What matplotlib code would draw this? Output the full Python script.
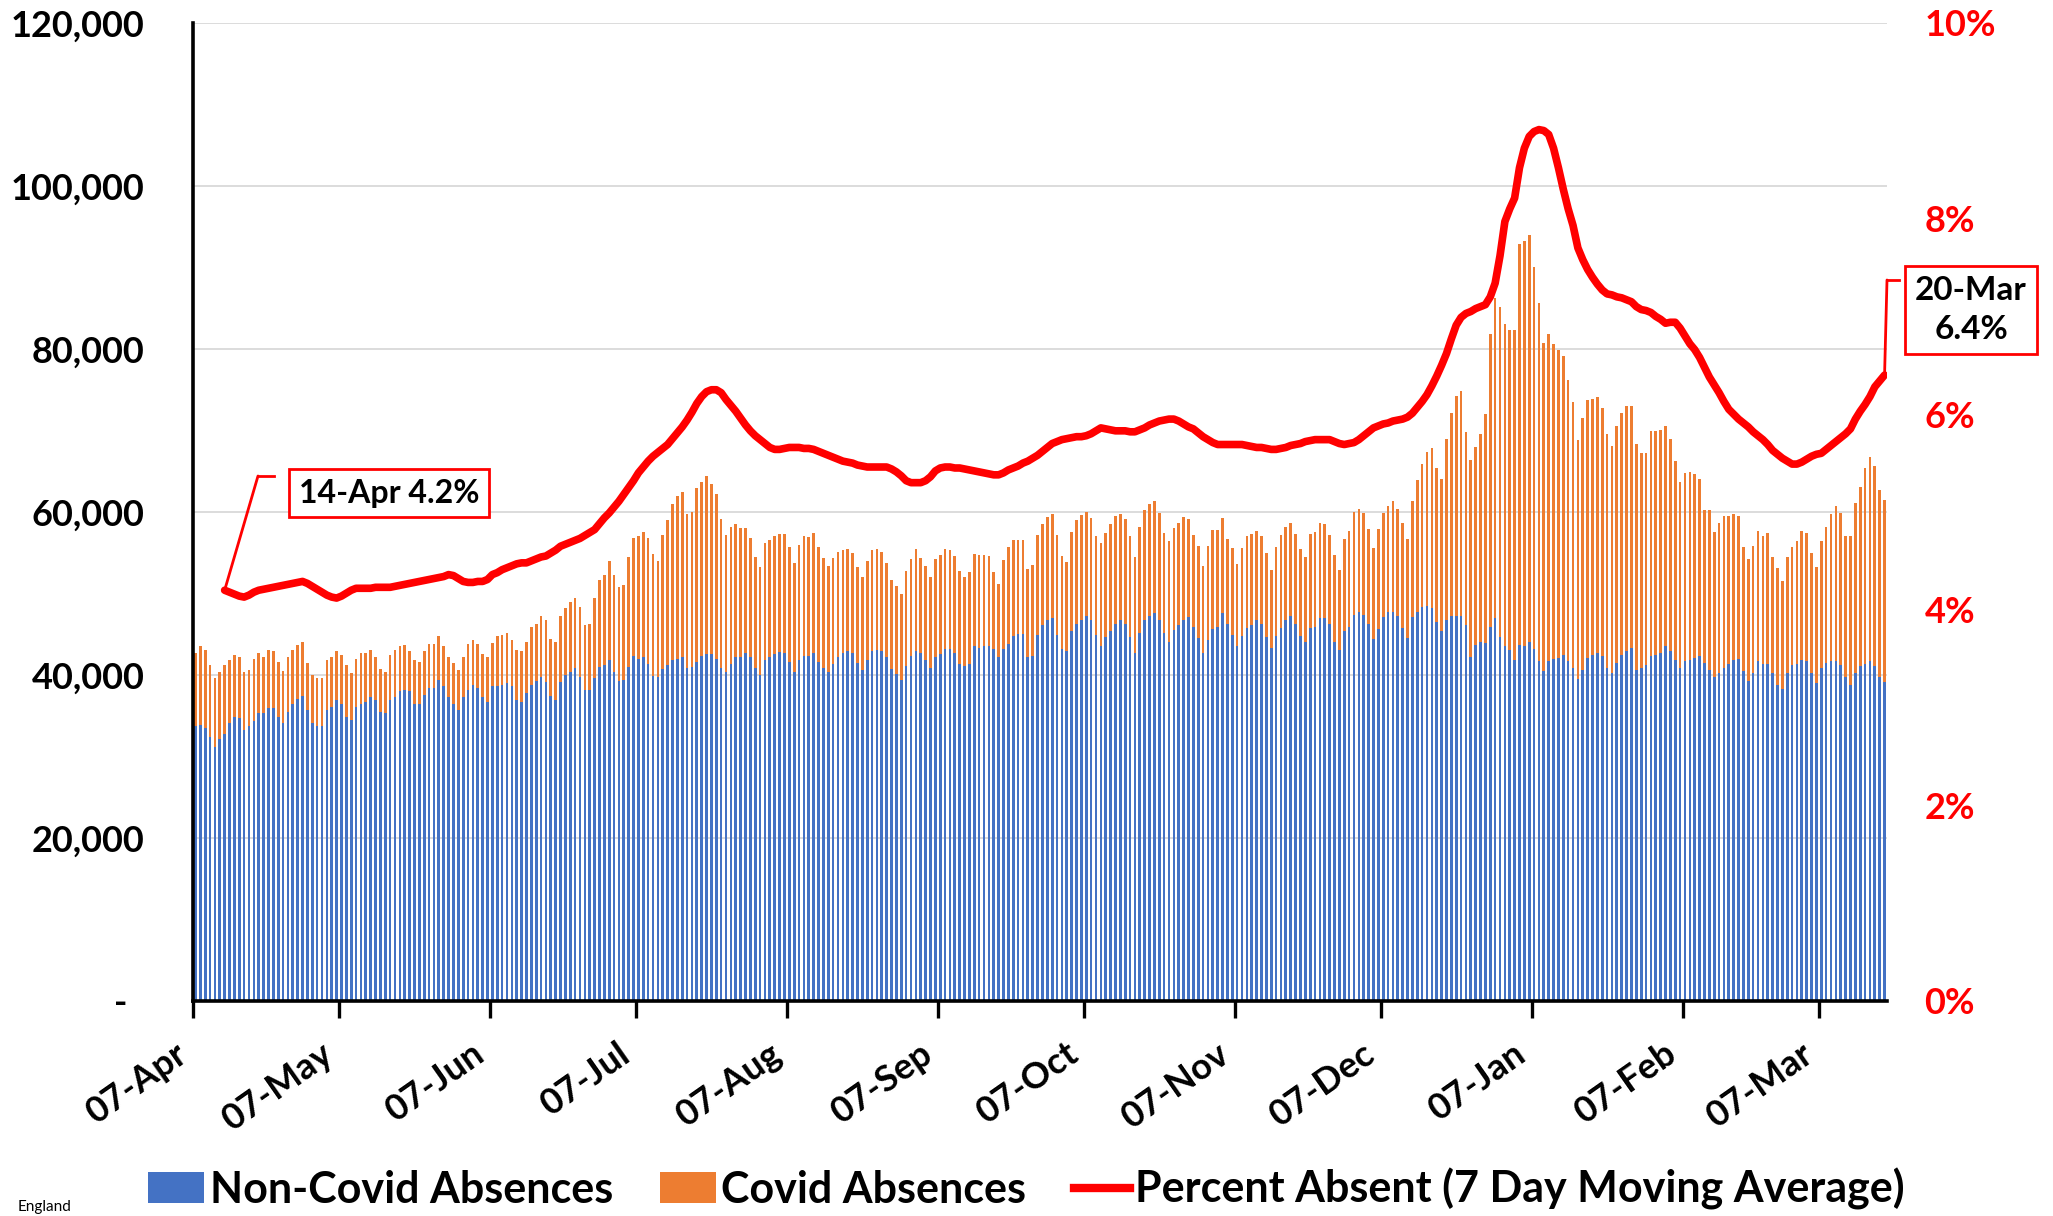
import numpy as np
import matplotlib
matplotlib.use("Agg")
import matplotlib.pyplot as plt
from matplotlib.patches import Patch
from matplotlib.lines import Line2D

plt.rcParams['font.family'] = ['Lato', 'DejaVu Sans']
plt.rcParams['font.weight'] = 'bold'

# ---------------- data ----------------
month_tick_days = [0, 30, 61, 91, 122, 153, 183, 214, 244, 275, 306, 334]
month_tick_labels = ["07-Apr", "07-May", "07-Jun", "07-Jul", "07-Aug", "07-Sep",
                     "07-Oct", "07-Nov", "07-Dec", "07-Jan", "07-Feb", "07-Mar"]

# daily non-covid absences (thousands), 07-Apr .. 20-Mar
non_covid_k = [
    33.7, 33.9, 33.5, 32.4, 31.2, 32.2, 32.8, 34.1, 34.9, 34.7,
    33.3, 33.7, 34.3, 35.3, 35.3, 35.9, 36.0, 34.9, 34.1, 35.5,
    36.5, 37.1, 37.4, 35.7, 34.1, 33.7, 33.7, 35.7, 36.1, 36.9,
    36.5, 34.9, 34.5, 36.1, 36.5, 36.7, 37.3, 36.9, 35.5, 35.3,
    36.9, 37.3, 38.0, 38.2, 38.0, 36.5, 36.5, 37.5, 38.4, 38.4,
    39.4, 38.6, 37.3, 36.5, 35.7, 37.3, 38.2, 38.8, 38.4, 37.3,
    36.7, 38.6, 38.7, 38.8, 39.0, 38.6, 36.9, 36.7, 37.8, 38.8,
    39.3, 39.8, 39.2, 37.4, 36.9, 39.2, 40.0, 40.4, 40.8, 39.8,
    38.1, 38.1, 39.6, 41.0, 41.2, 41.8, 40.4, 39.3, 39.4, 41.0,
    42.3, 42.0, 42.2, 41.4, 39.9, 39.8, 40.7, 41.2, 41.8, 42.0,
    42.2, 40.8, 41.0, 41.6, 42.3, 42.6, 42.6, 42.0, 40.8, 40.4,
    41.4, 42.2, 42.2, 42.7, 42.2, 40.8, 40.0, 41.8, 42.2, 42.6,
    42.8, 42.7, 41.6, 40.4, 41.8, 42.3, 42.3, 42.7, 41.6, 40.8,
    40.4, 41.4, 42.2, 42.7, 42.9, 42.7, 41.5, 40.6, 41.8, 42.9,
    43.1, 43.0, 42.2, 40.7, 40.1, 39.4, 41.1, 42.3, 43.0, 42.7,
    41.8, 40.9, 42.2, 42.6, 43.2, 43.2, 42.7, 41.4, 41.1, 41.3,
    43.5, 43.3, 43.6, 43.6, 43.2, 42.2, 43.2, 43.8, 44.8, 45.0,
    45.0, 42.2, 42.3, 44.9, 46.1, 46.8, 47.0, 44.9, 43.2, 43.0,
    45.4, 46.3, 46.7, 47.2, 46.7, 44.9, 43.6, 44.7, 45.4, 46.3,
    46.7, 46.3, 44.7, 42.7, 45.1, 46.7, 47.2, 47.6, 46.8, 45.1,
    44.1, 45.5, 46.1, 46.7, 47.1, 45.9, 44.5, 42.7, 44.3, 45.7,
    45.9, 47.6, 46.2, 44.9, 43.6, 44.8, 45.8, 46.1, 46.7, 46.2,
    44.7, 43.3, 44.8, 45.8, 46.7, 47.3, 46.2, 44.8, 44.1, 45.8,
    45.9, 47.0, 47.0, 46.2, 44.1, 43.1, 45.4, 45.9, 47.4, 47.7,
    47.4, 46.2, 44.4, 45.6, 47.1, 47.7, 47.7, 47.2, 45.8, 44.6,
    47.1, 47.7, 48.3, 48.5, 48.2, 46.5, 45.4, 46.7, 47.3, 47.3,
    47.3, 46.1, 42.2, 43.7, 44.1, 43.9, 45.9, 47.0, 44.7, 43.6,
    43.1, 41.8, 43.7, 43.6, 44.0, 43.2, 41.7, 40.5, 41.7, 42.0,
    42.1, 42.4, 41.7, 40.9, 39.5, 40.6, 42.1, 42.4, 42.7, 42.3,
    40.8, 40.3, 41.5, 42.4, 43.0, 43.3, 40.6, 40.8, 41.2, 42.3,
    42.4, 42.7, 43.5, 43.0, 41.8, 40.9, 41.7, 41.8, 42.1, 42.3,
    41.5, 40.6, 39.8, 40.2, 40.9, 41.3, 41.8, 42.0, 40.5, 39.3,
    40.3, 41.7, 41.4, 41.4, 40.2, 38.8, 38.3, 40.3, 41.2, 41.4,
    41.8, 41.7, 40.3, 39.0, 40.9, 41.5, 41.7, 41.7, 41.2, 39.8,
    38.8, 40.2, 41.1, 41.4, 41.7, 41.1, 39.8, 39.1,
]

# daily total absences = top of stacked bar (thousands)
total_k = [
    42.7, 43.5, 43.1, 41.2, 39.6, 40.4, 41.2, 41.8, 42.5, 42.2,
    40.4, 40.6, 42.0, 42.7, 42.2, 43.1, 42.9, 41.6, 40.5, 42.2,
    43.1, 43.7, 44.0, 41.5, 40.0, 39.6, 39.6, 41.8, 42.2, 42.9,
    42.5, 41.2, 40.2, 42.0, 42.7, 42.7, 43.1, 42.2, 40.7, 40.4,
    42.5, 43.1, 43.5, 43.7, 42.9, 41.8, 41.6, 42.9, 43.8, 43.8,
    44.8, 43.6, 42.2, 41.5, 40.6, 42.2, 43.8, 44.3, 43.8, 42.6,
    42.2, 43.9, 44.8, 44.9, 45.2, 44.3, 43.1, 43.0, 44.1, 45.9,
    46.3, 47.2, 46.7, 44.4, 44.0, 47.2, 48.2, 48.9, 49.5, 48.3,
    46.1, 46.3, 49.4, 51.7, 52.3, 54.0, 52.3, 50.8, 51.0, 54.5,
    56.8, 57.1, 57.6, 56.8, 54.9, 54.0, 57.2, 59.0, 61.0, 62.0,
    62.4, 59.8, 60.0, 63.0, 63.7, 64.4, 63.4, 62.2, 59.2, 57.2,
    58.2, 58.5, 58.0, 58.0, 56.8, 54.5, 53.2, 56.2, 56.6, 57.0,
    57.3, 57.3, 55.7, 53.8, 56.0, 57.0, 56.9, 57.4, 55.7, 54.3,
    53.4, 54.3, 55.1, 55.3, 55.5, 55.0, 53.3, 52.0, 54.0, 55.3,
    55.4, 55.1, 53.8, 51.7, 50.9, 50.0, 52.7, 54.2, 55.4, 54.4,
    53.4, 52.0, 54.2, 54.7, 55.4, 55.3, 54.6, 52.8, 52.0, 52.6,
    54.9, 54.7, 54.7, 54.6, 52.6, 51.2, 54.1, 55.7, 56.6, 56.6,
    56.6, 53.0, 53.5, 57.2, 58.5, 59.4, 59.8, 57.2, 54.6, 53.9,
    57.5, 59.0, 59.6, 60.0, 59.3, 57.0, 56.2, 57.4, 58.5, 59.5,
    59.8, 59.1, 57.0, 54.5, 58.2, 60.2, 61.0, 61.3, 59.9, 57.4,
    56.4, 58.0, 58.7, 59.4, 59.2, 57.2, 55.8, 53.4, 55.8, 57.8,
    57.8, 59.3, 56.7, 55.6, 53.6, 55.6, 57.0, 57.3, 57.7, 57.0,
    55.0, 52.9, 55.7, 57.2, 58.1, 58.7, 57.3, 55.4, 54.5, 57.3,
    57.6, 58.7, 58.5, 57.2, 54.7, 52.9, 56.7, 57.7, 60.0, 60.4,
    59.9, 57.9, 55.6, 57.9, 59.9, 60.7, 61.4, 60.4, 58.6, 56.7,
    61.3, 63.9, 65.9, 67.4, 67.9, 65.4, 64.1, 68.9, 72.2, 74.2,
    74.9, 69.8, 66.4, 68.0, 69.6, 72.0, 81.8, 86.3, 85.2, 83.1,
    82.3, 82.3, 92.9, 93.3, 94.0, 90.0, 85.7, 80.7, 81.8, 80.6,
    79.9, 79.1, 76.2, 73.5, 68.8, 71.5, 73.8, 73.9, 74.1, 72.7,
    69.6, 68.1, 70.5, 72.2, 73.0, 73.0, 68.3, 67.3, 67.2, 69.9,
    69.9, 70.1, 70.5, 68.9, 66.3, 63.7, 64.8, 64.9, 64.7, 64.0,
    60.3, 60.2, 57.6, 58.7, 59.5, 59.5, 59.7, 59.5, 55.7, 54.2,
    55.8, 57.7, 57.0, 57.4, 54.5, 53.1, 51.5, 54.5, 55.7, 56.4,
    57.7, 57.4, 55.0, 53.3, 56.4, 58.2, 59.7, 60.7, 59.9, 57.1,
    57.0, 61.1, 63.1, 65.4, 66.7, 65.6, 62.7, 61.5,
]

# 7-day moving average percent absent, starting at day index 6
pct_start_day = 6
pct_ma = [
    4.20, 4.18, 4.16, 4.14,
    4.13, 4.15, 4.18, 4.20, 4.21, 4.22, 4.23, 4.24, 4.25, 4.26,
    4.27, 4.28, 4.29, 4.27, 4.24, 4.21, 4.18, 4.15, 4.13, 4.12,
    4.14, 4.17, 4.20, 4.22, 4.22, 4.22, 4.22, 4.23, 4.23, 4.23,
    4.23, 4.24, 4.25, 4.26, 4.27, 4.28, 4.29, 4.30, 4.31, 4.32,
    4.33, 4.34, 4.36, 4.35, 4.32, 4.29, 4.28, 4.28, 4.29, 4.29,
    4.31, 4.36, 4.38, 4.41, 4.43, 4.45, 4.47, 4.48, 4.48, 4.50,
    4.52, 4.54, 4.55, 4.58, 4.61, 4.65, 4.67, 4.69, 4.71, 4.73,
    4.76, 4.79, 4.82, 4.88, 4.94, 4.99, 5.05, 5.11, 5.18, 5.25,
    5.32, 5.40, 5.46, 5.52, 5.57, 5.61, 5.65, 5.69, 5.75, 5.81,
    5.87, 5.94, 6.02, 6.11, 6.18, 6.23, 6.25, 6.25, 6.22, 6.15,
    6.09, 6.03, 5.96, 5.89, 5.83, 5.78, 5.74, 5.70, 5.66, 5.64,
    5.64, 5.65, 5.66, 5.66, 5.66, 5.65, 5.65, 5.64, 5.62, 5.60,
    5.58, 5.56, 5.54, 5.52, 5.51, 5.50, 5.48, 5.47, 5.46, 5.46,
    5.46, 5.46, 5.46, 5.44, 5.41, 5.37, 5.32, 5.30, 5.30, 5.30,
    5.32, 5.36, 5.42, 5.45, 5.46, 5.46, 5.45, 5.45, 5.44, 5.43,
    5.42, 5.41, 5.40, 5.39, 5.38, 5.38, 5.40, 5.43, 5.45, 5.47,
    5.50, 5.52, 5.55, 5.58, 5.62, 5.66, 5.70, 5.72, 5.74, 5.75,
    5.76, 5.77, 5.77, 5.78, 5.80, 5.83, 5.86, 5.85, 5.84, 5.83,
    5.83, 5.83, 5.82, 5.82, 5.84, 5.86, 5.89, 5.91, 5.93, 5.94,
    5.95, 5.95, 5.93, 5.90, 5.87, 5.85, 5.81, 5.77, 5.74, 5.71,
    5.69, 5.69, 5.69, 5.69, 5.69, 5.69, 5.68, 5.67, 5.66, 5.66,
    5.65, 5.64, 5.64, 5.65, 5.66, 5.68, 5.69, 5.70, 5.72, 5.73,
    5.74, 5.74, 5.74, 5.74, 5.72, 5.70, 5.69, 5.70, 5.71, 5.74,
    5.78, 5.82, 5.86, 5.88, 5.90, 5.91, 5.93, 5.94, 5.95, 5.97,
    6.01, 6.07, 6.13, 6.20, 6.29, 6.39, 6.50, 6.62, 6.77, 6.91,
    6.99, 7.03, 7.05, 7.08, 7.10, 7.12, 7.20, 7.34, 7.62, 7.97,
    8.10, 8.21, 8.52, 8.72, 8.84, 8.89, 8.91, 8.90, 8.86, 8.72,
    8.52, 8.30, 8.10, 7.93, 7.70, 7.58, 7.48, 7.40, 7.33, 7.27,
    7.23, 7.22, 7.20, 7.19, 7.17, 7.15, 7.10, 7.07, 7.06, 7.04,
    7.00, 6.97, 6.93, 6.94, 6.94, 6.88, 6.80, 6.72, 6.66, 6.58,
    6.48, 6.38, 6.30, 6.22, 6.13, 6.05, 6.00, 5.95, 5.91, 5.87,
    5.82, 5.78, 5.74, 5.69, 5.63, 5.59, 5.55, 5.52, 5.49, 5.49,
    5.51, 5.54, 5.57, 5.59, 5.60, 5.64, 5.68, 5.72, 5.76, 5.80,
    5.85, 5.95, 6.03, 6.10, 6.18, 6.28, 6.34, 6.40,
]

left_ticks = [0, 20000, 40000, 60000, 80000, 100000, 120000]
right_ticks = [0, 2, 4, 6, 8, 10]

legend_labels = ["Non-Covid Absences", "Covid Absences",
                 "Percent Absent (7 Day Moving Average)"]
first_label = "14-Apr 4.2%"
last_label = "20-Mar\n6.4%"

# ---------------- figure ----------------
BLUE = '#4472C4'
ORANGE = '#ED7D31'
RED = '#FF0000'

W, H = 2053, 1216
fig = plt.figure(figsize=(W / 100, H / 100), dpi=100)
L, R, T, B = 193, 1887, 23, 1001
ax = fig.add_axes([L / W, 1 - B / H, (R - L) / W, (B - T) / H])

n_days = len(non_covid_k)
x = np.arange(n_days) + 0.5
non_covid = np.array(non_covid_k) * 1000.0
covid = (np.array(total_k) - np.array(non_covid_k)) * 1000.0

ax.bar(x, non_covid, width=0.55, color=BLUE, linewidth=0)
ax.bar(x, covid, bottom=non_covid, width=0.55, color=ORANGE, linewidth=0)

ax.set_xlim(0, n_days)
ax.set_ylim(0, 120000)
ax.set_yticks(left_ticks)
ax.set_yticklabels(['-  ' if v == 0 else f'{v:,}' for v in left_ticks])
ax.yaxis.grid(True, color='#D9D9D9', linewidth=1.3)
ax.set_axisbelow(True)
ax.tick_params(axis='y', length=0, pad=35, labelsize=26, labelcolor='black')

ax.set_xticks(month_tick_days)
ax.set_xticklabels(month_tick_labels, rotation=35, ha='right')
ax.tick_params(axis='x', length=12, width=2.4, direction='out', pad=14,
               labelsize=26, color='black')
for lbl in ax.get_xticklabels():
    lbl.set_x(lbl.get_position()[0])

for s in ['top', 'right']:
    ax.spines[s].set_visible(False)
for s in ['left', 'bottom']:
    ax.spines[s].set_linewidth(2.6)
    ax.spines[s].set_color('black')

ax2 = ax.twinx()
ax2.set_ylim(0, 10)
ax2.set_yticks(right_ticks)
ax2.set_yticklabels([f'{v}%' for v in right_ticks])
ax2.tick_params(axis='y', length=0, pad=27, labelsize=26, labelcolor=RED)
for s in ['top', 'right', 'left', 'bottom']:
    ax2.spines[s].set_visible(False)

x_line = np.arange(pct_start_day, pct_start_day + len(pct_ma)) + 0.5
ax2.plot(x_line, pct_ma, color=RED, linewidth=5.5, solid_joinstyle='round',
         solid_capstyle='round')


def figfrac(px, py):
    return (px / W, 1 - py / H)


# annotation 1
ax2.annotate('', xy=(x_line[0], pct_ma[0]), xycoords='data',
             xytext=figfrac(258, 476), textcoords='figure fraction',
             arrowprops=dict(arrowstyle='-', color=RED, lw=2,
                             shrinkA=0, shrinkB=0), annotation_clip=False)
fig.add_artist(Line2D([258 / W, 274 / W], [1 - 476 / H, 1 - 476 / H],
                      transform=fig.transFigure, color=RED, lw=2))
fig.text(*figfrac(389, 493), first_label, ha='center', va='center',
         fontsize=23, fontweight='bold', color='black',
         bbox=dict(boxstyle='square,pad=0.3', fc='white', ec=RED, lw=2))

# annotation 2
ax2.annotate('', xy=(x_line[-1], pct_ma[-1]), xycoords='data',
             xytext=figfrac(1887, 280), textcoords='figure fraction',
             arrowprops=dict(arrowstyle='-', color=RED, lw=2,
                             shrinkA=0, shrinkB=0), annotation_clip=False)
fig.add_artist(Line2D([1887 / W, 1899 / W], [1 - 280 / H, 1 - 280 / H],
                      transform=fig.transFigure, color=RED, lw=2))
fig.text(*figfrac(1971, 310), last_label, ha='center', va='center',
         ma='center', linespacing=1.45, fontsize=24, fontweight='bold',
         color='black',
         bbox=dict(boxstyle='square,pad=0.3', fc='white', ec=RED, lw=2))

# legend
handles = [Patch(facecolor=BLUE, edgecolor='none'),
           Patch(facecolor=ORANGE, edgecolor='none'),
           Line2D([0], [0], color=RED, lw=6)]
fig.legend(handles, legend_labels, loc='center',
           bbox_to_anchor=(0.5, 1 - 1189 / H), ncol=3, frameon=False,
           fontsize=31, handlelength=1.3, handleheight=0.7,
           handletextpad=0.12, columnspacing=1.1, borderpad=0)

fig.text(18 / W, 1 - 1200 / H, 'England', fontsize=11, fontweight='normal',
         va='top', ha='left', color='black')

fig.savefig('out.png', dpi=100)
